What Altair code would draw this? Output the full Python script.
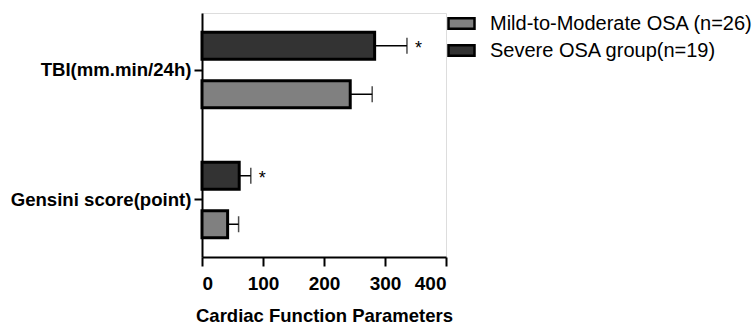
import altair as alt
import pandas as pd

categories = ["TBI(mm.min/24h)", "Gensini score(point)"]
groups = ["Mild-to-Moderate OSA (n=26)", "Severe OSA group(n=19)"]
mild_means = [243, 42]
mild_errs = [36, 18]
severe_means = [283, 61]
severe_errs = [53, 19]
mild_sig = ["", ""]
severe_sig = ["*", "*"]
x_ticks = [0, 100, 200, 300, 400]

rows = []
for i, c in enumerate(categories):
    rows.append({"param": c, "group": groups[1], "mean": severe_means[i],
                 "err": severe_errs[i], "sig": severe_sig[i]})
    rows.append({"param": c, "group": groups[0], "mean": mild_means[i],
                 "err": mild_errs[i], "sig": mild_sig[i]})
df = pd.DataFrame(rows)
df["hi"] = df["mean"] + df["err"]

FONT = "Liberation Sans"

y_enc = alt.Y("param:N", sort=categories,
              scale=alt.Scale(paddingInner=0.123, paddingOuter=0),
              axis=alt.Axis(title=None, labelFont=FONT, labelFontSize=18.6,
                            labelFontWeight="bold", labelColor="black",
                            tickSize=8, tickWidth=2, tickColor="black",
                            domainWidth=2, domainColor="black", labelPadding=3,
                            labelLimit=400))
yoff_enc = alt.YOffset("group:N", sort=[groups[1], groups[0]],
                       scale=alt.Scale(paddingInner=0.443, paddingOuter=0.397))
x_scale = alt.Scale(domain=[0, 400], nice=False)
x_axis = alt.Axis(title="Cardiac Function Parameters", values=x_ticks,
                  labelFont=FONT, labelFontSize=19, labelFontWeight="bold",
                  labelColor="black", titleFont=FONT, titleFontSize=18.5,
                  titleFontWeight="bold", titleColor="black", titlePadding=13,
                  tickSize=9, tickWidth=2, tickColor="black", domainWidth=2,
                  domainColor="black", labelPadding=8, grid=False)

base = alt.Chart(df)

bars = base.mark_bar(stroke="black", strokeWidth=3).encode(
    x=alt.X("mean:Q", scale=x_scale, axis=x_axis),
    y=y_enc,
    yOffset=yoff_enc,
    color=alt.Color("group:N",
                    scale=alt.Scale(domain=groups, range=["#808080", "#333333"]),
                    legend=alt.Legend(title=None, orient="none", legendX=245,
                                      legendY=-4, labelFont=FONT, labelFontSize=20,
                                      labelColor="black",
                                      symbolType="M-1,-0.4H1V0.4H-1Z",
                                      symbolSize=676, symbolStrokeColor="black",
                                      symbolStrokeWidth=2.5, symbolOpacity=1,
                                      rowPadding=2, labelOffset=14, padding=0,
                                      labelLimit=400)),
)

err_line = base.mark_rule(color="black", strokeWidth=1.5).encode(
    x="mean:Q", x2="hi:Q", y=y_enc, yOffset=yoff_enc)

err_cap = base.mark_tick(color="black", size=16, thickness=1.5).encode(
    x="hi:Q", y=y_enc, yOffset=yoff_enc)

stars = base.mark_text(align="left", baseline="middle", dx=8, dy=3,
                       font=FONT, fontSize=18, color="black").encode(
    x="hi:Q", y=y_enc, yOffset=yoff_enc, text="sig:N")

chart = alt.layer(bars, err_line, err_cap, stars).properties(
    width=244, height=244,
    autosize=alt.AutoSizeParams(type="none"),
    padding={"left": 202, "top": 13, "right": 310, "bottom": 72},
).configure_view(stroke=None).configure(background="white")

chart.save("out.html", embed_options={"renderer": "svg", "actions": False})
